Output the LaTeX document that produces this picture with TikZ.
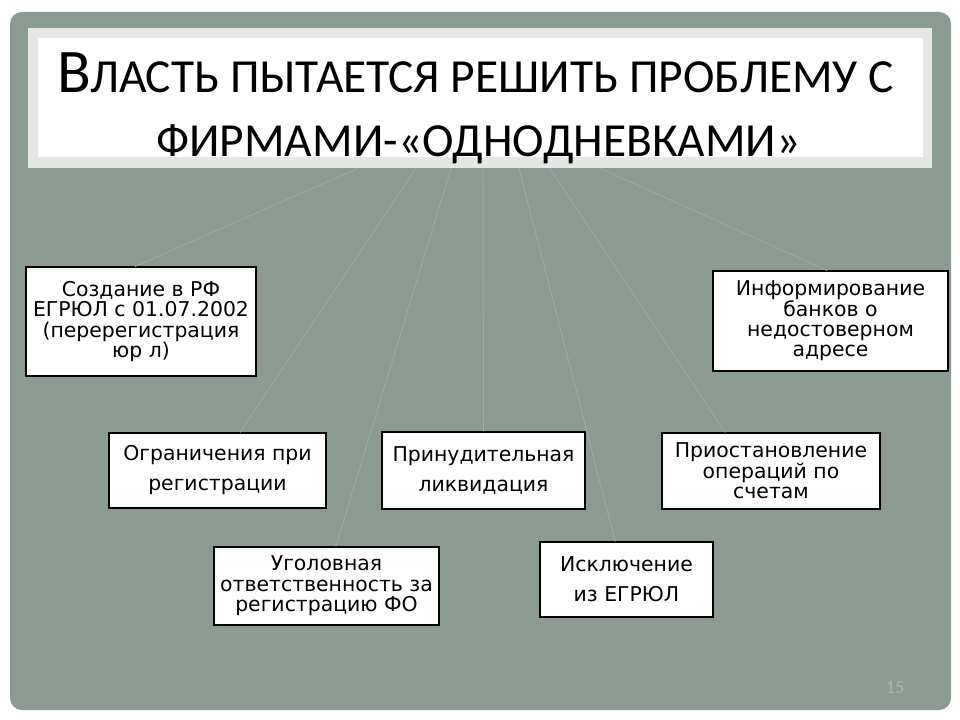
\documentclass[tikz,border=0pt]{standalone}
\usepackage{fontspec}
\setmainfont{DejaVu Sans}
\newfontfamily\titlefont{Carlito}
\usetikzlibrary{positioning}

\definecolor{slate}{RGB}{139,155,146}
\definecolor{slateline}{RGB}{155,170,162}
\definecolor{framegrey}{RGB}{228,231,229}
\definecolor{pagegrey}{RGB}{172,180,175}

\tikzset{
  card/.style={draw=black, line width=0.8pt, fill=white, align=center, inner sep=1pt,
    font=\fontsize{15.3}{15.3}\selectfont},
  widecard/.style={card, font=\fontsize{15.3}{22.5}\selectfont},
  spoke/.style={draw=slateline, line width=0.7pt},
  headline/.style={anchor=base, inner sep=0pt, font=\titlefont\fontsize{35.6}{35.6}\selectfont},
}

\begin{document}
\begin{tikzpicture}[x=0.75pt,y=-0.75pt]
  \useasboundingbox (0,0) rectangle (960,720);
  \fill[white] (0,0) rectangle (960,720);
  \fill[slate, rounded corners=9pt] (10,12) rectangle (951,710);

  % title
  \node[fill=framegrey, minimum width=678pt, minimum height=105pt, inner sep=0pt] (title) at (480,98) {};
  \fill[white] (38,38) rectangle (923,157);
  \node[headline] (head1) at (475.5,93) {{\fontsize{46.5}{46.5}\selectfont В}ЛАСТЬ ПЫТАЕТСЯ РЕШИТЬ ПРОБЛЕМУ С};
  \node[headline] (head2) at (478.5,157) {ФИРМАМИ-«ОДНОДНЕВКАМИ»};

  % boxes
  \node[card, minimum width=172.5pt, minimum height=81.75pt] (create) at (141,321.5)
    {Создание в РФ\\ЕГРЮЛ с 01.07.2002\\(перерегистрация\\юр л)};
  \node[card, minimum width=176.25pt, minimum height=75pt] (inform) at (830.5,321)
    {Информирование\\банков о\\недостоверном\\адресе};
  \node[widecard, minimum width=162.75pt, minimum height=56.25pt] (limit) at (217.5,470.5)
    {Ограничения при\\регистрации};
  \node[widecard, minimum width=152.25pt, minimum height=57.75pt] (liquid) at (483.5,470.5)
    {Принудительная\\ликвидация};
  \node[card, minimum width=163.5pt, minimum height=57pt] (freeze) at (771,471)
    {Приостановление\\операций по\\счетам};
  \node[card, minimum width=168.75pt, minimum height=58.5pt] (crime) at (326.5,586)
    {Уголовная\\ответственность за\\регистрацию ФО};
  \node[widecard, minimum width=129.75pt, minimum height=56.25pt] (strike) at (626.5,579.5)
    {Исключение\\из ЕГРЮЛ};

  % faint spokes
  \draw[spoke] ([xshift=-91.5pt]title.south) -- ([xshift=-4.5pt]create.north);
  \draw[spoke] ([xshift=-48pt]title.south) -- ([xshift=17pt]limit.north);
  \draw[spoke] ([xshift=-21.75pt]title.south) -- ([xshift=7pt]crime.north);
  \draw[spoke] ([xshift=2.25pt]title.south) -- (liquid.north);
  \draw[spoke] ([xshift=29.25pt]title.south) -- ([xshift=-8.5pt]strike.north);
  \draw[spoke] ([xshift=52.5pt]title.south) -- ([xshift=-34.5pt]freeze.north);
  \draw[spoke] ([xshift=90pt]title.south) -- ([xshift=-2.5pt]inform.north);

  \node[text=pagegrey, font=\titlefont\fontsize{14}{14}\selectfont] (pagenum) at (895,688) {15};
\end{tikzpicture}
\end{document}
